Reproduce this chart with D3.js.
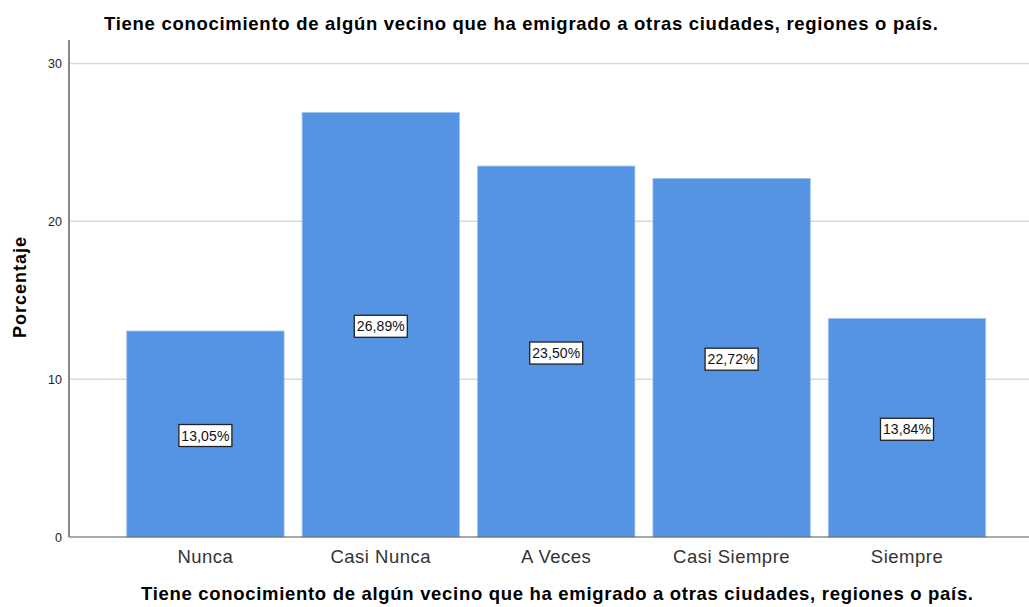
<!DOCTYPE html>
<html>
<head>
<meta charset="utf-8">
<script src="https://cdn.jsdelivr.net/npm/d3@7"></script>
<style>
  body { margin: 0; background: #fff; }
  svg { display: block; font-family: "Liberation Sans", Arial, sans-serif; }
</style>
</head>
<body>
<svg></svg>
<script>
const width = 1029;
const height = 607;

const categories = ["Nunca", "Casi Nunca", "A Veces", "Casi Siempre", "Siempre"];
const values = [13.05, 26.89, 23.5, 22.72, 13.84];
const yTicks = [0, 10, 20, 30];
const title = "Tiene conocimiento de algún vecino que ha emigrado a otras ciudades, regiones o país.";

const svg = d3.select("svg").attr("width", width).attr("height", height);

const axisX = 69;
const x = d3
  .scaleBand()
  .domain(categories)
  .range([117.7, 994.7])
  .paddingInner(0.103)
  .paddingOuter(0.0515);

const y = d3.scaleLinear().domain([0, 30]).range([537, 63.5]);

// gridlines
svg
  .append("g")
  .selectAll("line")
  .data(yTicks.filter((t) => t > 0))
  .join("line")
  .attr("x1", axisX)
  .attr("x2", width)
  .attr("y1", (d) => y(d))
  .attr("y2", (d) => y(d))
  .attr("stroke", "#d9d9d9")
  .attr("stroke-width", 1.5);

// bars
svg
  .append("g")
  .selectAll("rect")
  .data(values)
  .join("rect")
  .attr("x", (d, i) => x(categories[i]))
  .attr("y", (d) => y(d))
  .attr("width", x.bandwidth())
  .attr("height", (d) => y(0) - y(d))
  .attr("fill", "#5594e3")
  .attr("stroke", "#9cc2ef")
  .attr("stroke-width", 0.8);

// axes lines
svg
  .append("line")
  .attr("x1", axisX)
  .attr("x2", width)
  .attr("y1", y(0))
  .attr("y2", y(0))
  .attr("stroke", "#555")
  .attr("stroke-width", 1.2);

svg
  .append("line")
  .attr("x1", axisX)
  .attr("x2", axisX)
  .attr("y1", 40)
  .attr("y2", y(0))
  .attr("stroke", "#888")
  .attr("stroke-width", 2);

// y tick labels
svg
  .append("g")
  .selectAll("text")
  .data(yTicks)
  .join("text")
  .attr("x", 62)
  .attr("y", (d) => y(d) + 4.5)
  .attr("text-anchor", "end")
  .attr("font-size", 12.5)
  .attr("fill", "#222")
  .text((d) => d);

// category labels
svg
  .append("g")
  .selectAll("text")
  .data(categories)
  .join("text")
  .attr("x", (d) => x(d) + x.bandwidth() / 2)
  .attr("y", 563)
  .attr("text-anchor", "middle")
  .attr("font-size", 18.5)
  .attr("letter-spacing", 0.5)
  .attr("fill", "#333")
  .text((d) => d);

// value labels
const fmt = (v) => v.toFixed(2).replace(".", ",") + "%";
const labels = svg
  .append("g")
  .selectAll("g")
  .data(values)
  .join("g")
  .attr("transform", (d, i) => `translate(${x(categories[i]) + x.bandwidth() / 2},${y(d / 2) + 1.5})`);

labels
  .append("rect")
  .attr("x", -26.5)
  .attr("y", -11)
  .attr("width", 53)
  .attr("height", 22)
  .attr("fill", "#fff")
  .attr("stroke", "#222")
  .attr("stroke-width", 1.3);

labels
  .append("text")
  .attr("text-anchor", "middle")
  .attr("y", 5)
  .attr("font-size", 14)
  .attr("letter-spacing", 0.1)
  .attr("fill", "#111")
  .text((d) => fmt(d));

// titles
svg
  .append("text")
  .attr("x", 104)
  .attr("y", 29.5)
  .attr("font-size", 18.5)
  .attr("font-weight", "bold")
  .attr("textLength", 834)
  .attr("lengthAdjust", "spacing")
  .text(title);

svg
  .append("text")
  .attr("x", 141)
  .attr("y", 600)
  .attr("font-size", 18.5)
  .attr("font-weight", "bold")
  .attr("textLength", 832)
  .attr("lengthAdjust", "spacing")
  .text(title);

svg
  .append("text")
  .attr("transform", `translate(26,338) rotate(-90)`)
  .attr("font-size", 18)
  .attr("font-weight", "bold")
  .attr("textLength", 101)
  .attr("lengthAdjust", "spacing")
  .text("Porcentaje");
</script>
</body>
</html>
